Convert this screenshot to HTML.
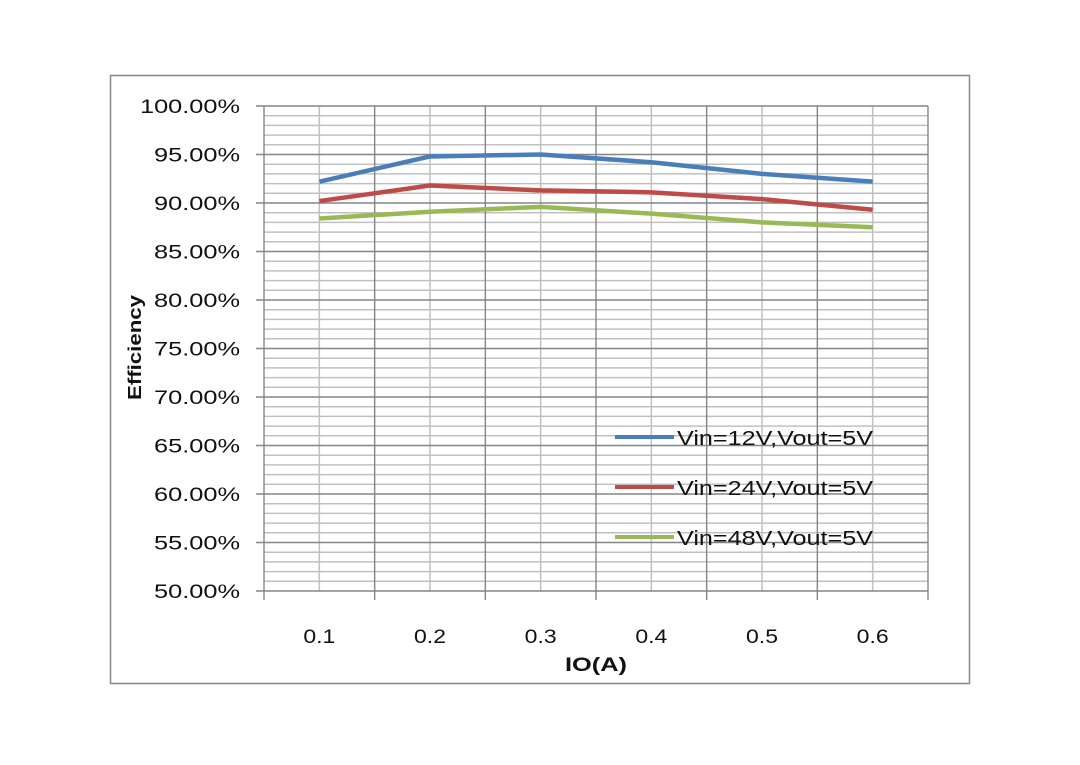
<!DOCTYPE html>
<html><head><meta charset="utf-8"><style>
body{margin:0;background:#fff;width:1080px;height:760px;overflow:hidden}
svg text{font-family:"Liberation Sans",sans-serif;fill:#111}
</style></head><body>
<svg id="c" width="1080" height="760">
<rect x="110.5" y="75.5" width="859" height="608" fill="#fff" stroke="#888" stroke-width="1.5"/>
<g id="grid"></g><g id="axes"></g><g id="series"></g><g id="legend"></g>
<text x="565" y="671" textLength="62" lengthAdjust="spacingAndGlyphs" font-size="19" font-weight="bold">IO(A)</text>
<text transform="translate(141,400) rotate(-90)" textLength="105" lengthAdjust="spacingAndGlyphs" font-size="18" font-weight="bold">Efficiency</text>
</svg>
<script>
const categories=["0.1","0.2","0.3","0.4","0.5","0.6"];
const seriesNames=["Vin=12V,Vout=5V","Vin=24V,Vout=5V","Vin=48V,Vout=5V"];
const s12=[92.2,94.8,95.0,94.2,93.0,92.2];
const s24=[90.2,91.8,91.3,91.1,90.4,89.3];
const s48=[88.4,89.1,89.6,88.9,88.0,87.5];
const yTicks=[50,55,60,65,70,75,80,85,90,95,100];
const NS="http://www.w3.org/2000/svg";
const L=264,R=928,T=106,B=591,yMin=50,yMax=100;
const bw=(R-L)/categories.length;
const xs=i=>L+bw*(i+0.5);
const ys=v=>B-(v-yMin)/(yMax-yMin)*(B-T);
function mk(p,t,a){const e=document.createElementNS(NS,t);for(const k in a)e.setAttribute(k,a[k]);p.appendChild(e);return e;}
const g=document.getElementById('grid'),ax=document.getElementById('axes'),sg=document.getElementById('series'),lg=document.getElementById('legend');
for(let v=yMin;v<=yMax;v++){if(v%5===0)continue;const l=mk(g,'line',{x1:L,x2:R,y1:ys(v),y2:ys(v),stroke:'#c0c0c0','stroke-width':1.5});

}
for(let i=0;i<categories.length;i++){const l=mk(g,'line',{x1:xs(i),x2:xs(i),y1:T,y2:B,stroke:'#c0c0c0','stroke-width':1.5});

}
yTicks.forEach(v=>{const l=mk(g,'line',{x1:L-8,x2:R,y1:ys(v),y2:ys(v),stroke:'#858585','stroke-width':1.4});


const s=v.toFixed(2)+'%';
const t=mk(ax,'text',{x:240,y:ys(v)+7,'text-anchor':'end','font-size':19,textLength:s.length===7?100:86,lengthAdjust:'spacingAndGlyphs'});t.textContent=s;

});
for(let i=0;i<=categories.length;i++){const x=L+bw*i;const l=mk(g,'line',{x1:x,x2:x,y1:T,y2:B+9,stroke:'#858585','stroke-width':1.4});

}
categories.forEach((c,i)=>{const t=mk(ax,'text',{x:xs(i),y:643,'text-anchor':'middle','font-size':19,textLength:32,lengthAdjust:'spacingAndGlyphs'});t.textContent=c;

});
const all=[s12,s24,s48],cols=['#4a7ebb','#be4b48','#98b954'];
all.forEach((d,k)=>{const p=mk(sg,'polyline',{points:d.map((v,i)=>xs(i)+','+ys(v)).join(' '),fill:'none',stroke:cols[k],'stroke-width':4.5,'stroke-linejoin':'round'});


const y=437+50*k;
const l=mk(lg,'line',{x1:615,x2:674,y1:y,y2:y,stroke:cols[k],'stroke-width':4});


const t=mk(lg,'text',{x:677,y:y+8,'font-size':20,textLength:196,lengthAdjust:'spacingAndGlyphs'});t.textContent=seriesNames[k];

});
</script>
</body></html>
